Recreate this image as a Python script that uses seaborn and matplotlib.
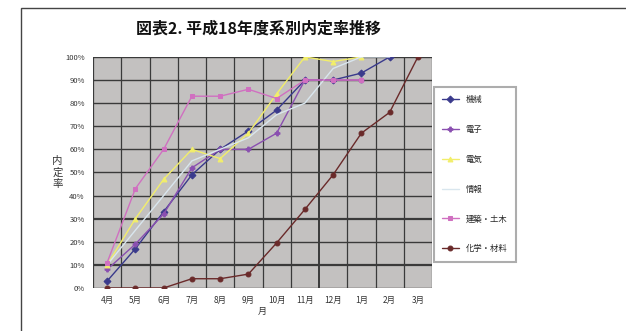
import numpy as np
import pandas as pd
import matplotlib
matplotlib.use("Agg")
import matplotlib.pyplot as plt
import seaborn as sns
from matplotlib.patches import Rectangle

sns.set_theme(style="white")
plt.rcParams["font.family"] = ["Noto Sans CJK JP", "DejaVu Sans"]

# Data: cumulative job-offer rate (%) by department, April -> March
months = ["4月", "5月", "6月", "7月", "8月", "9月", "10月", "11月", "12月", "1月", "2月", "3月"]
kikai = [3, 17, 33, 49, 60, 68, 77, 90, 90, 93, 100, np.nan]
denshi = [8, 19, 32, 52, 60, 60, 67, 90, 90, 90, np.nan, np.nan]
denki = [10, 30, 47, 60, 56, 67, 84, 100, 98, 100, np.nan, np.nan]
joho = [10, 25, 40, 55, 60, 65, 75, 80, 95, 100, 100, np.nan]
kenchiku = [11, 43, 60, 83, 83, 86, 82, 90, 90, 90, np.nan, np.nan]
kagaku = [0, 0, 0, 4, 4, 6, 19.5, 34, 49, 67, 76, 100]

series_names = ["機械", "電子", "電気", "情報", "建築・土木", "化学・材料"]
series_values = [kikai, denshi, denki, joho, kenchiku, kagaku]

colors = ["#3a3a8c", "#8a4fb0", "#f2ee6a", "#d9e6ee", "#d070c0", "#6a2a2a"]
markers = ["D", "P", "^", None, "s", "o"]

fig = plt.figure(figsize=(6.26, 3.31), dpi=100)
ax = fig.add_axes([0.1486, 0.130, 0.5415, 0.698])
ax.set_facecolor("#c3c1c0")

x = np.arange(len(months))
for name, vals, c, m in zip(series_names, series_values, colors, markers):
    df = pd.DataFrame({"x": x, "y": vals}).dropna()
    sns.lineplot(data=df, x="x", y="y", ax=ax, color=c, marker=m, markersize=3.5,
                 markeredgecolor=c, linewidth=1.0, label=name, legend=False)

ax.set_xlim(-0.5, len(months) - 0.5)
ax.set_ylim(0, 100)
ax.set_xticks(x)
ax.set_xticklabels(months, fontsize=6, color="#333333")
ax.set_yticks(np.arange(0, 101, 10))
ax.set_yticklabels([f"{v}%" for v in range(0, 101, 10)], fontsize=5.5, color="#333333")
ax.tick_params(length=0, pad=6)

# grid: horizontal at every 10 %, vertical at month boundaries
for v in range(0, 101, 10):
    lw = 1.6 if v in (10, 30) else 1.0
    ax.axhline(v, color="#3a3a3a", linewidth=lw, zorder=0.5)
for b in np.arange(-0.5, len(months), 1.0):
    lw = 1.4 if b == 7.5 else 0.9
    ax.axvline(b, color="#3a3a3a", linewidth=lw, zorder=0.5)
for s in ax.spines.values():
    s.set_visible(False)

ax.set_xlabel("月", fontsize=6.5, labelpad=1, color="#333333")
ax.set_ylabel("内\n定\n率", fontsize=7.5, rotation=0, va="center", ha="center",
              color="#333333", linespacing=1.15)
ax.yaxis.set_label_coords(-0.105, 0.5)

fig.text(0.413, 0.915, "図表2. 平成18年度系別内定率推移", fontsize=11.5,
         fontweight="bold", ha="center", va="center", color="#111111")

handles, labels = ax.get_legend_handles_labels()
leg = fig.legend(handles, labels, loc="upper left", bbox_to_anchor=(0.693, 0.738),
                 fontsize=6, frameon=True, handlelength=2.0, handletextpad=0.8,
                 labelspacing=2.5, borderpad=1.0, borderaxespad=0,
                 fancybox=False, edgecolor="#999999")
leg.get_frame().set_linewidth(1.5)

# outer frame of the figure panel
fig.patches.append(Rectangle((21 / 626, -0.05), 1.0, 1 - 8 / 331 + 0.05,
                             transform=fig.transFigure, fill=False,
                             edgecolor="#444444", linewidth=1.0))

fig.savefig("out.png", dpi=100, facecolor="white")
